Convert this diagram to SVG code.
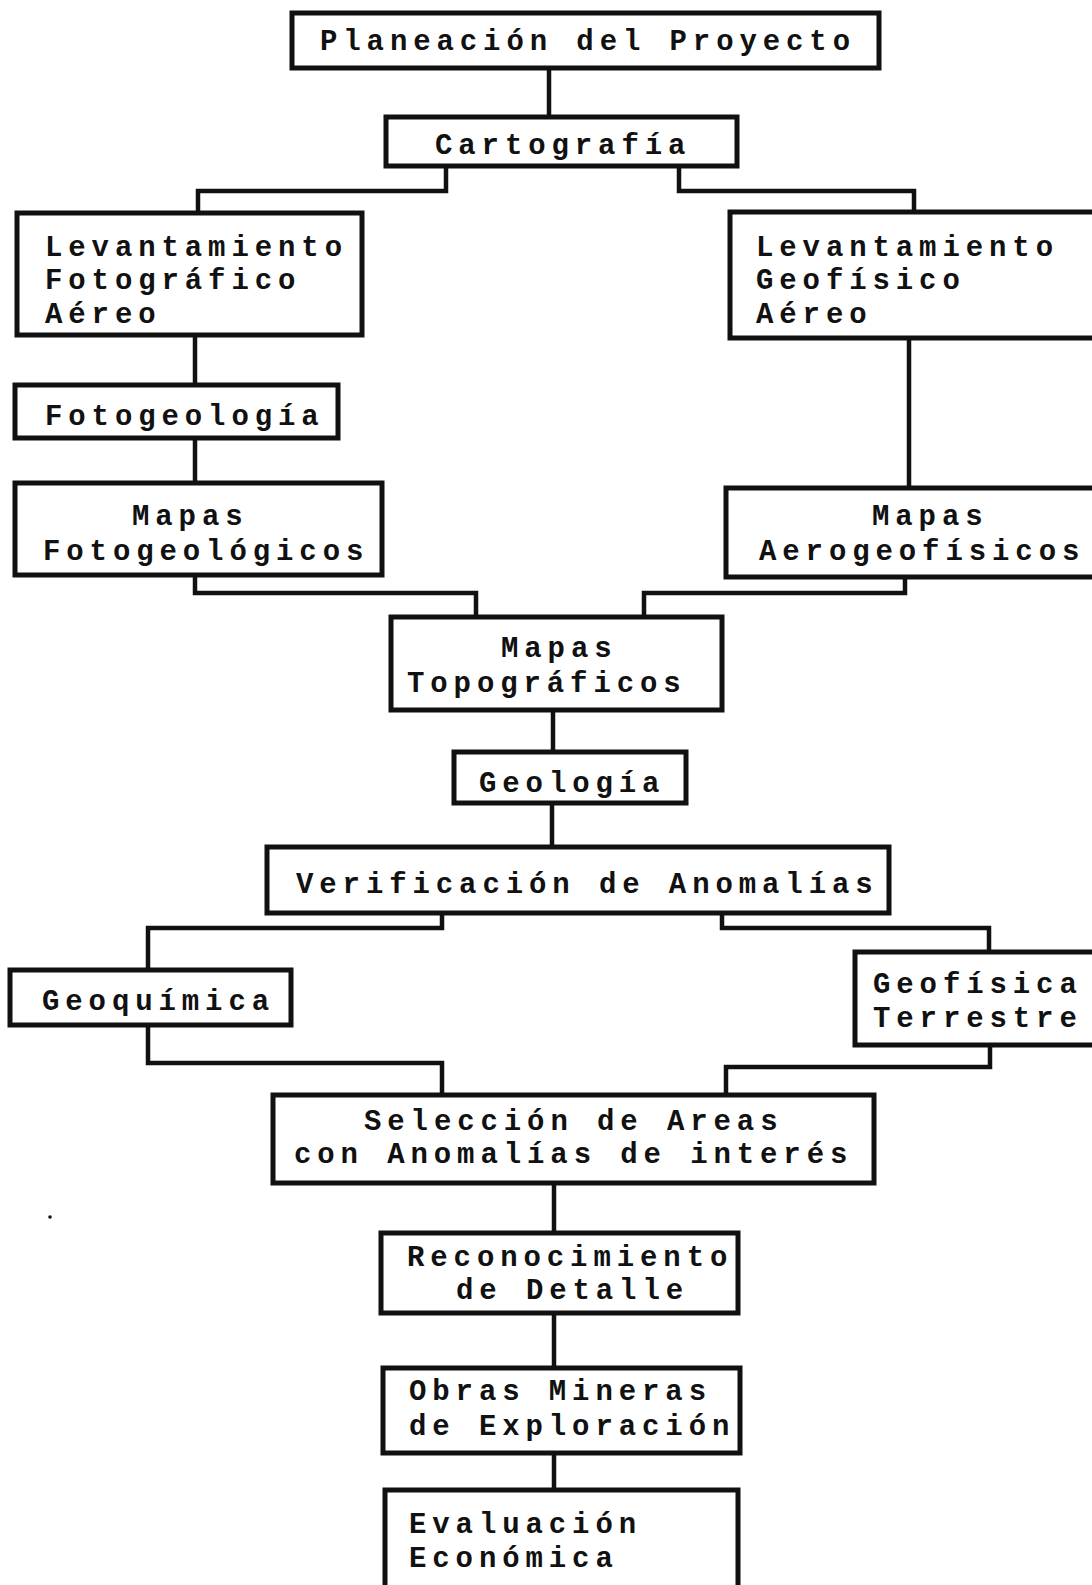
<svg xmlns="http://www.w3.org/2000/svg" width="1092" height="1585" viewBox="0 0 1092 1585">
<style>
.box{fill:#fff;stroke:#111;stroke-width:5}
.con{fill:none;stroke:#111;stroke-width:4.5}
text{font-family:"Liberation Mono","Courier New",monospace;font-size:29px;font-weight:bold;letter-spacing:5.9px;fill:#111}
</style>
<rect x="0" y="0" width="1092" height="1585" fill="#fff"/>
<g id="connectors">
<path class="con" d="M549 68 V117"/>
<path class="con" d="M446 166 V191 H198 V213"/>
<path class="con" d="M679 166 V191 H914 V212"/>
<path class="con" d="M195 335 V385"/>
<path class="con" d="M195 438 V483"/>
<path class="con" d="M909 338 V488"/>
<path class="con" d="M195 575 V593 H476 V617"/>
<path class="con" d="M905 577 V593 H644 V617"/>
<path class="con" d="M553 710 V752"/>
<path class="con" d="M552 803 V847"/>
<path class="con" d="M442 913 V928 H148 V970"/>
<path class="con" d="M722 913 V928 H989 V952"/>
<path class="con" d="M148 1025 V1063 H442 V1095"/>
<path class="con" d="M990 1045 V1067 H726 V1095"/>
<path class="con" d="M554 1183 V1233"/>
<path class="con" d="M554 1313 V1368"/>
<path class="con" d="M554 1453 V1490"/>
</g>
<g id="n-planeacion"><rect class="box" x="292" y="13" width="587" height="55"/><text x="320" y="50">Planeación del Proyecto</text></g>
<g id="n-cartografia"><rect class="box" x="386" y="117" width="351" height="49"/><text x="435" y="154">Cartografía</text></g>
<g id="n-lev-foto"><rect class="box" x="17" y="213" width="345" height="122"/><text x="45" y="256">Levantamiento</text><text x="45" y="289">Fotográfico</text><text x="45" y="323">Aéreo</text></g>
<g id="n-lev-geof"><rect class="box" x="730" y="212" width="380" height="126"/><text x="756" y="256">Levantamiento</text><text x="756" y="289">Geofísico</text><text x="756" y="323">Aéreo</text></g>
<g id="n-fotogeologia"><rect class="box" x="15" y="385" width="323" height="53"/><text x="45" y="425">Fotogeología</text></g>
<g id="n-mapas-foto"><rect class="box" x="15" y="483" width="367" height="92"/><text x="132" y="525">Mapas</text><text x="43" y="560">Fotogeológicos</text></g>
<g id="n-mapas-aero"><rect class="box" x="726" y="488" width="380" height="89"/><text x="872" y="525">Mapas</text><text x="759" y="560">Aerogeofísicos</text></g>
<g id="n-mapas-topo"><rect class="box" x="391" y="617" width="331" height="93"/><text x="501" y="657">Mapas</text><text x="407" y="692">Topográficos</text></g>
<g id="n-geologia"><rect class="box" x="454" y="752" width="232" height="51"/><text x="479" y="792">Geología</text></g>
<g id="n-verificacion"><rect class="box" x="267" y="847" width="622" height="66"/><text x="296" y="893">Verificación de Anomalías</text></g>
<g id="n-geoquimica"><rect class="box" x="10" y="970" width="281" height="55"/><text x="42" y="1010">Geoquímica</text></g>
<g id="n-geofisica"><rect class="box" x="855" y="952" width="250" height="93"/><text x="873" y="993">Geofísica</text><text x="873" y="1027">Terrestre</text></g>
<g id="n-seleccion"><rect class="box" x="273" y="1095" width="601" height="88"/><text x="364" y="1130">Selección de Areas</text><text x="294" y="1163">con Anomalías de interés</text></g>
<g id="n-reconocimiento"><rect class="box" x="381" y="1233" width="357" height="80"/><text x="407" y="1266">Reconocimiento</text><text x="456" y="1299">de Detalle</text></g>
<g id="n-obras"><rect class="box" x="383" y="1368" width="357" height="85"/><text x="409" y="1400">Obras Mineras</text><text x="409" y="1435">de Exploración</text></g>
<g id="n-evaluacion"><rect class="box" x="385" y="1490" width="353" height="110"/><text x="409" y="1533">Evaluación</text><text x="409" y="1567">Económica</text></g>
<circle cx="50" cy="1217" r="1.8" fill="#111"/>
</svg>
